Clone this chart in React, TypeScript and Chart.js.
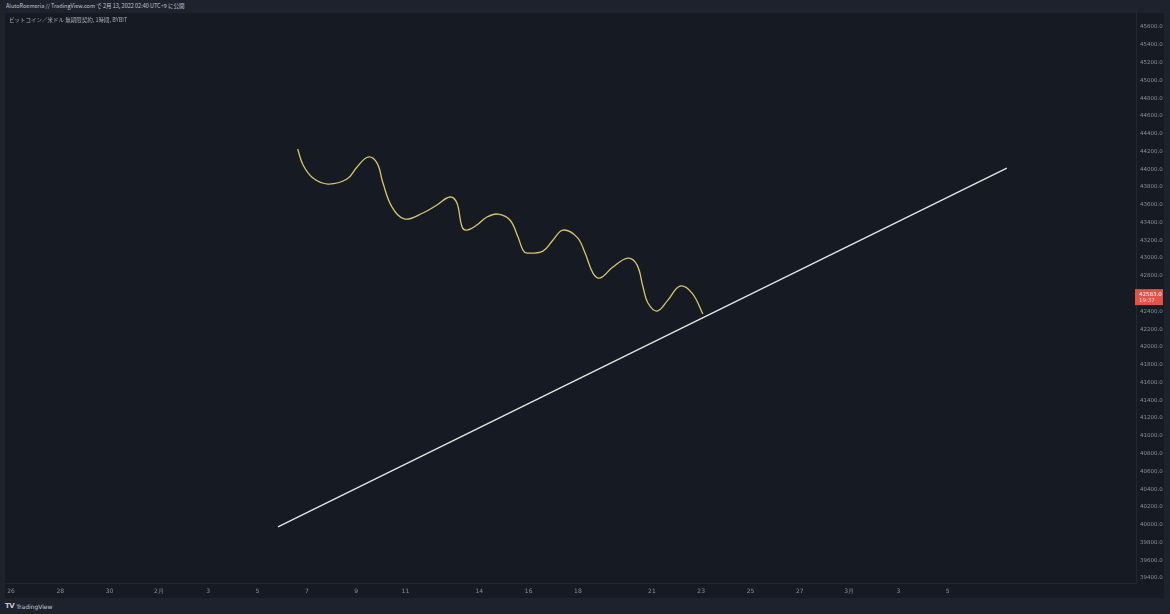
import React, { useEffect, useRef } from "react";
import { Chart, registerables } from "chart.js";

Chart.register(...registerables);

// x values are days counted from Jan 26 (day 0)
const xTickValues = [0, 2, 4, 6, 8, 10, 12, 14, 16, 19, 21, 23, 26, 28, 30, 32, 34, 36, 38];
const xTickLabels = ["26", "28", "30", "2月", "3", "5", "7", "9", "11", "14", "16", "18", "21", "23", "25", "27", "3月", "3", "5"];

const yTickValues = [
  39400, 39600, 39800, 40000, 40200, 40400, 40600, 40800, 41000, 41200, 41400, 41600, 41800, 42000,
  42200, 42400, 42600, 42800, 43000, 43200, 43400, 43600, 43800, 44000, 44200, 44400, 44600, 44800,
  45000, 45200, 45400, 45600,
];

// hand-drawn yellow curve
const curveDays = [
  11.63, 11.85, 12.25, 12.86, 13.63, 14.04, 14.48, 14.85, 15.09, 15.46, 15.98, 16.71, 17.28, 17.81,
  18.09, 18.3, 18.5, 18.9, 19.31, 19.76, 20.24, 20.57, 20.77, 20.93, 21.58, 21.99, 22.39, 22.96,
  23.29, 23.61, 23.89, 24.42, 25.03, 25.4, 25.64, 25.84, 26.21, 26.65, 27.14, 27.63, 28.07,
];
const curvePrices = [
  44227, 44047, 43900, 43833, 43889, 44024, 44137, 44069, 43844, 43574, 43439, 43507, 43597, 43687,
  43619, 43349, 43315, 43372, 43462, 43495, 43428, 43236, 43090, 43056, 43079, 43203, 43315, 43236,
  43056, 42831, 42775, 42899, 43000, 42921, 42674, 42494, 42404, 42527, 42685, 42606, 42370,
];

// white trend line
const trendDays = [10.83, 40.4];
const trendPrices = [39975, 44012];

const lastPrice = 42583;
const lastPriceText = "42583.0";
const countdownText = "19:37";

const BG = "#161a23";
const FRAME = "#1e222d";
const TICK = "#8b8f99";

export default function App() {
  const ref = useRef<HTMLCanvasElement | null>(null);

  useEffect(() => {
    document.body.style.margin = "0";
    document.body.style.background = FRAME;
    const canvas = ref.current;
    if (!canvas) return;

    const bgPlugin = {
      id: "bg",
      beforeDraw(chart: any) {
        const { ctx, width, height } = chart;
        ctx.save();
        ctx.fillStyle = BG;
        ctx.fillRect(0, 0, width, height);
        ctx.restore();
      },
    };

    const pricePlugin = {
      id: "priceLabel",
      afterDraw(chart: any) {
        const { ctx } = chart;
        const y = chart.scales.y.getPixelForValue(lastPrice);
        const x0 = chart.chartArea.right - 1;
        ctx.save();
        ctx.fillStyle = "#e2524d";
        ctx.fillRect(x0, y - 6, 28, 16);
        ctx.fillStyle = "#ffffff";
        ctx.font = "5.5px 'DejaVu Sans'";
        ctx.textBaseline = "middle";
        ctx.textAlign = "left";
        ctx.fillText(lastPriceText, x0 + 4, y - 1);
        ctx.fillStyle = "#f7d0ce";
        ctx.fillText(countdownText, x0 + 4, y + 5.5);
        ctx.restore();
      },
    };

    const noPad = (scale: any) => {
      scale.paddingTop = 0;
      scale.paddingBottom = 0;
      scale.paddingLeft = 0;
      scale.paddingRight = 0;
    };

    const chart = new Chart(canvas, {
      type: "scatter",
      data: {
        datasets: [
          {
            data: trendDays.map((d, i) => ({ x: d, y: trendPrices[i] })),
            showLine: true,
            borderColor: "#e6e6e6",
            borderWidth: 1.3,
            pointRadius: 0,
            tension: 0,
          },
          {
            data: curveDays.map((d, i) => ({ x: d, y: curvePrices[i] })),
            showLine: true,
            borderColor: "#d8c56a",
            borderWidth: 1.3,
            pointRadius: 0,
            tension: 0.4,
          },
        ],
      },
      options: {
        animation: false,
        responsive: false,
        maintainAspectRatio: false,
        layout: { padding: 0 },
        plugins: { legend: { display: false }, tooltip: { enabled: false } },
        scales: {
          x: {
            type: "linear",
            min: -0.243,
            max: 45.64,
            afterBuildTicks(scale: any) {
              scale.ticks = xTickValues.map((v) => ({ value: v }));
            },
            afterFit(scale: any) {
              scale.height = 15;
              noPad(scale);
            },
            ticks: {
              autoSkip: false,
              maxRotation: 0,
              padding: 5,
              color: TICK,
              font: { size: 6, family: "'DejaVu Sans'" },
              callback: (v: any) => {
                const i = xTickValues.indexOf(Number(v));
                return i >= 0 ? xTickLabels[i] : "";
              },
            },
            grid: { display: false, drawTicks: false },
            border: { display: true, color: "#232733" },
          },
          y: {
            type: "linear",
            position: "right",
            min: 39344,
            max: 45757.5,
            afterBuildTicks(scale: any) {
              scale.ticks = yTickValues.map((v) => ({ value: v }));
            },
            afterFit(scale: any) {
              scale.width = 28;
              noPad(scale);
            },
            ticks: {
              autoSkip: false,
              padding: 4,
              color: TICK,
              font: { size: 5.5, family: "'DejaVu Sans'" },
              callback: (v: any) => Number(v).toFixed(1),
            },
            grid: { display: false, drawTicks: false },
            border: { display: true, color: "#232733" },
          },
        },
      },
      plugins: [bgPlugin, pricePlugin],
    });

    return () => chart.destroy();
  }, []);

  return (
    <div
      style={{
        position: "relative",
        width: 1170,
        height: 614,
        background: FRAME,
        overflow: "hidden",
        fontFamily: "'DejaVu Sans', sans-serif",
      }}
    >
      <div
        style={{
          position: "absolute",
          left: 6,
          top: 2,
          fontSize: 5.5,
          color: "#c3c6ce",
          whiteSpace: "nowrap",
          fontFamily: "'Noto Sans CJK JP', 'DejaVu Sans', sans-serif",
        }}
      >
        AlutoRoemeria // TradingView.com で 2月 13, 2022 02:40 UTC+9 に公開
      </div>
      <canvas
        ref={ref}
        width={1159}
        height={585}
        style={{ position: "absolute", left: 5, top: 13, width: 1159, height: 585 }}
      />
      <div
        style={{
          position: "absolute",
          left: 9,
          top: 16,
          fontSize: 5.5,
          color: "#a6a9b1",
          whiteSpace: "nowrap",
          fontFamily: "'Noto Sans CJK JP', 'DejaVu Sans', sans-serif",
        }}
      >
        ビットコイン／米ドル 無期限契約, 1時間, BYBIT
      </div>
      <div
        style={{
          position: "absolute",
          left: 5,
          top: 602,
          fontSize: 6,
          color: "#c3c6ce",
          whiteSpace: "nowrap",
          display: "flex",
          alignItems: "center",
          gap: 2,
        }}
      >
        <span style={{ fontWeight: "bold", fontSize: 7, letterSpacing: -0.5 }}>TV</span>
        <span>TradingView</span>
      </div>
    </div>
  );
}
